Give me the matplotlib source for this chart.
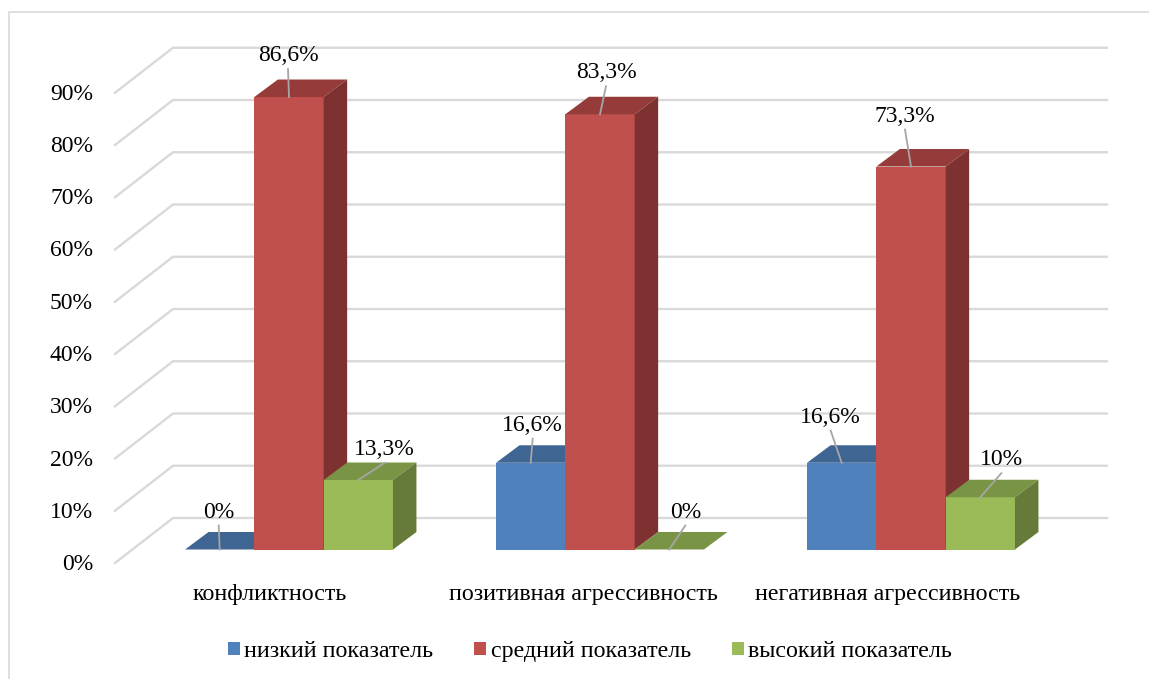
import matplotlib
matplotlib.use('Agg')
import matplotlib.pyplot as plt
from matplotlib.patches import Patch, Polygon

plt.rcParams['font.family'] = ['Liberation Serif', 'DejaVu Serif']

categories = ['конфликтность', 'позитивная агрессивность', 'негативная агрессивность']
series_names = ['низкий показатель', 'средний показатель', 'высокий показатель']
low = [0, 16.6, 16.6]
mid = [86.6, 83.3, 73.3]
high = [13.3, 0, 10]
low_labels = ['0%', '16,6%', '16,6%']
mid_labels = ['86,6%', '83,3%', '73,3%']
high_labels = ['13,3%', '0%', '10%']
y_ticks = [0, 10, 20, 30, 40, 50, 60, 70, 80, 90]

W, H = 1149, 679
X_UNIT = 311.0   # px per category
Y_UNIT = 5.225   # px per percent
X0, Y0 = 289.0, 549.5  # pixel of category 0 centre at bar base


def dx(px):
    return px / X_UNIT


def dy(px):
    return px / Y_UNIT


# лицевая / верхняя / боковая грани
front_colors = ['#4F81BD', '#C0504D', '#9BBB59']
top_colors = ['#3F6592', '#953C3A', '#7A9446']
side_colors = ['#3A5B84', '#7D3231', '#667A3A']

fig = plt.figure(figsize=(W / 100, H / 100), dpi=100)
ax = fig.add_axes([0, 0, 1, 1])
ax.set_xlim(dx(-X0), dx(W - X0))
ax.set_ylim(dy(Y0 - H), dy(Y0))
ax.axis('off')

# рамка
ax.plot([dx(9 - X0), dx(9 - X0), dx(W - X0)],
        [dy(Y0 - H), dy(Y0 - 12), dy(Y0 - 12)], color='#D9D9D9', lw=1.2)

# сетка
wall_y = dy(Y0 - 563)
for v in y_ticks:
    y = v + wall_y
    ax.plot([dx(115 - X0), dx(173 - X0), dx(1107 - X0)], [y, y + dy(45), y + dy(45)],
            color='#D9D9D9', lw=1.7, solid_joinstyle='miter')
    ax.text(dx(93 - X0), y - dy(1.5), f'{v}%', ha='right', va='center', fontsize=17, color='#000000')

bar_w = dx(69.3)
depth_x, depth_y = dx(23.5), dy(17.5)
offsets_low = [(-1, 40), (2, 40), (-11, 48)]
offsets_mid = [(-1, 44), (6, 44), (-6, 53)]
offsets_high = [(26, 33), (16, 40), (21, 40)]

series = [low, mid, high]
series_labels = [low_labels, mid_labels, high_labels]
series_offsets = [offsets_low, offsets_mid, offsets_high]

for c in range(len(categories)):
    for s in range(3):
        val = series[s][c]
        x_left = c + (s - 1.5) * bar_w
        x_right = x_left + bar_w
        ax.bar(x_left, val, width=bar_w, align='edge', color=front_colors[s], zorder=3 + c + s * 0.1)
        ax.add_patch(Polygon([(x_left, val), (x_right, val),
                              (x_right + depth_x, val + depth_y), (x_left + depth_x, val + depth_y)],
                             closed=True, fc=top_colors[s], ec='none', zorder=3 + c + s * 0.1))
        if val > 0:
            ax.add_patch(Polygon([(x_right, 0), (x_right + depth_x, depth_y),
                                  (x_right + depth_x, val + depth_y), (x_right, val)],
                                 closed=True, fc=side_colors[s], ec='none', zorder=3 + c + s * 0.1))

# подписи данных с линиями-выносками
for c in range(len(categories)):
    for s in range(3):
        val = series[s][c]
        x_mid = c + (s - 1) * bar_w
        ox, oy = series_offsets[s][c]
        ax.plot([x_mid, x_mid + dx(ox)], [val, val + dy(oy - 16)], color='#A6A6A6', lw=1.3, zorder=10)
        ax.text(x_mid + dx(ox), val + dy(oy - 2.5), series_labels[s][c], ha='center', va='center',
                fontsize=17, color='#000000', zorder=11)

# подписи категорий
label_shift = [-19, -16.5, -23]
for c, name in enumerate(categories):
    ax.text(c + dx(label_shift[c]), dy(Y0 - 594.5), name, ha='center', va='center', fontsize=17.3, color='#000000')

handles = [Patch(facecolor=front_colors[i], label=series_names[i]) for i in range(3)]
ax.legend(handles=handles, ncol=3, frameon=False, fontsize=17.3,
          loc='center', bbox_to_anchor=(590 / W, 1 - 651.5 / H),
          handlelength=0.5, handleheight=0.5, handletextpad=0.17, columnspacing=1.7,
          labelcolor='#000000', borderpad=0, borderaxespad=0)

fig.savefig('out.png', dpi=100)
